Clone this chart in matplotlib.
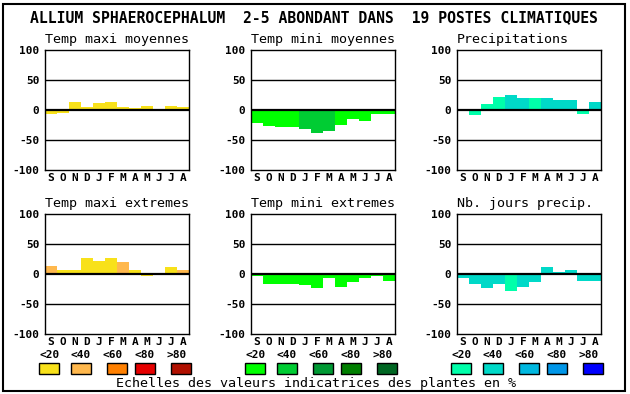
import numpy as np
import matplotlib
matplotlib.use('Agg')
import matplotlib.pyplot as plt
from matplotlib.patches import Rectangle

# data
months = ['S', 'O', 'N', 'D', 'J', 'F', 'M', 'A', 'M', 'J', 'J', 'A']
scale_labels = ['<20', '<40', '<60', '<80', '>80']
title = 'ALLIUM SPHAEROCEPHALUM  2-5 ABONDANT DANS  19 POSTES CLIMATIQUES'
caption = 'Echelles des valeurs indicatrices des plantes en %'

panel_titles = ['Temp maxi moyennes', 'Temp mini moyennes', 'Precipitations',
                'Temp maxi extremes', 'Temp mini extremes', 'Nb. jours precip.']

tmax_moy = [-7, -5, 14, 5, 12, 14, 5, 3, 7, 0, 7, 5]
tmin_moy = [-22, -27, -28, -28, -32, -38, -35, -25, -15, -18, -6, -6]
precip = [2, -8, 10, 22, 25, 20, 20, 20, 17, 17, -7, 13]
tmax_ext = [14, 6, 7, 27, 22, 26, 20, 6, -4, 2, 11, 6]
tmin_ext = [-4, -16, -16, -16, -18, -23, -6, -21, -13, -6, -3, -11]
nbjours = [-6, -16, -24, -16, -28, -21, -14, 11, 3, 6, -11, -11]

# colour class (0..4 -> <20 .. >80) for each bar
tmax_moy_cls = [0] * 12
tmin_moy_cls = [0, 0, 0, 0, 1, 1, 1, 0, 0, 0, 0, 0]
precip_cls = [1, 0, 0, 0, 1, 1, 0, 1, 1, 1, 0, 1]
tmax_ext_cls = [1, 0, 0, 0, 0, 0, 1, 0, 0, 0, 0, 1]
tmin_ext_cls = [0] * 12
nbjours_cls = [1, 1, 1, 1, 0, 1, 1, 1, 1, 1, 1, 1]

warm = ['#f8e11a', '#ffb84d', '#ff8000', '#e60000', '#b01000']
cold = ['#00ff00', '#00cc33', '#009933', '#007f00', '#006622']
wet = ['#00ffaa', '#00d9c8', '#00b8e0', '#0096e8', '#0000ff']

values = [tmax_moy, tmin_moy, precip, tmax_ext, tmin_ext, nbjours]
classes = [tmax_moy_cls, tmin_moy_cls, precip_cls, tmax_ext_cls, tmin_ext_cls, nbjours_cls]
palettes = [warm, cold, wet, warm, cold, wet]

W, H = 630, 394
fig = plt.figure(figsize=(W / 100, H / 100), dpi=100)
mono = 'DejaVu Sans Mono'

def fx(x):
    return x / W

def fy(y):
    return 1 - y / H

col_x = [45, 251, 457]
row_y = [50, 214]
aw, ah = 144, 120

for k in range(6):
    r, c = divmod(k, 3)
    x0, y0 = col_x[c], row_y[r]
    ax = fig.add_axes([fx(x0), fy(y0 + ah), aw / W, ah / H])
    pal = palettes[k]
    cols = [pal[i] for i in classes[k]]
    ax.bar(np.arange(12) + 0.5, values[k], width=1.0, color=cols, linewidth=0, zorder=1)
    for yv in [-50, 50]:
        ax.axhline(yv, color='black', lw=1.0, zorder=2)
    ax.axhline(0, color='black', lw=1.6, zorder=3)
    ax.set_xlim(0, 12)
    ax.set_ylim(-100, 100)
    ax.set_xticks(np.arange(12) + 0.5)
    ax.set_xticklabels(months, family=mono, fontweight='bold', fontsize=8)
    ax.set_yticks([-100, -50, 0, 50, 100])
    ax.set_yticklabels(['-100', '-50', '0', '50', '100'], family=mono,
                       fontweight='bold', fontsize=8)
    ax.tick_params(length=0, pad=4)
    ax.tick_params(axis='x', pad=2)
    for s in ax.spines.values():
        s.set_linewidth(1.0)
    fig.text(fx(x0), fy(y0 - 7), panel_titles[k], family=mono, fontsize=9.6,
             ha='left', va='baseline')

# legend rows under the bottom panels
box_off = [-6, 26, 62, 90, 126]
lab_off = [5, 36, 68, 100, 132]
for c in range(3):
    pal = palettes[c]
    for i in range(5):
        fig.text(fx(col_x[c] + lab_off[i]), fy(355), scale_labels[i], family=mono,
                 fontweight='bold', fontsize=8, ha='center', va='center')
        fig.patches.append(Rectangle((fx(col_x[c] + box_off[i]), fy(374)), 20 / W, 11 / H,
                                     transform=fig.transFigure, facecolor=pal[i],
                                     edgecolor='black', lw=1.0))

fig.text(fx(314), fy(22), title, family=mono, fontweight='bold', fontsize=10.6,
         ha='center', va='baseline')
fig.text(fx(316), fy(387), caption, family=mono, fontsize=9.6, ha='center', va='baseline')

fig.patches.append(Rectangle((fx(3), fy(391)), 622 / W, 387 / H, transform=fig.transFigure,
                             facecolor='none', edgecolor='black', lw=1.5))

fig.savefig('out.png', dpi=100)
